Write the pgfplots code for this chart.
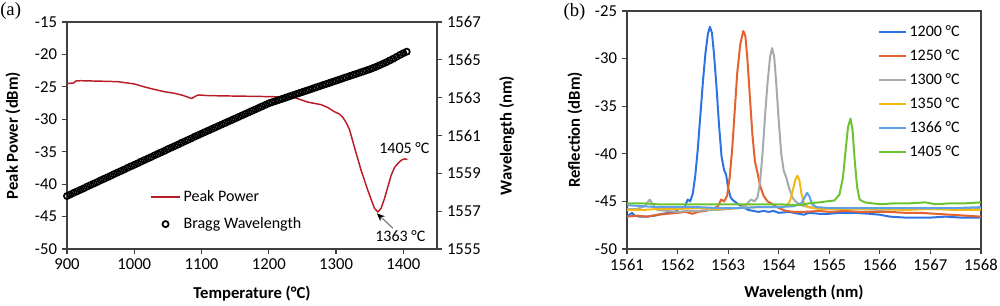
\documentclass[border=0pt]{standalone}
\usepackage{fontspec}
\setmainfont{Carlito}
\newfontfamily\seriffont{Liberation Serif}
\usepackage{pgfplots}
\pgfplotsset{compat=1.18}
\usetikzlibrary{arrows.meta}
\definecolor{pkred}{RGB}{185,28,38}
\definecolor{cA}{RGB}{45,115,228}
\definecolor{cB}{RGB}{228,98,45}
\definecolor{cC}{RGB}{165,170,172}
\definecolor{cD}{RGB}{245,185,20}
\definecolor{cE}{RGB}{95,160,230}
\definecolor{cF}{RGB}{110,195,50}
\pgfplotsset{
  myax/.style={
    scale only axis, anchor=south west,
    axis line style={black!75, line width=0.9pt},
    tick style={black!75, line width=0.9pt},
    major tick length=4pt, tick align=outside,
    /pgf/number format/assume math mode=true,
    /pgf/number format/1000 sep={},
    tick label style={font=\fontsize{12.5}{14}\selectfont},
    label style={font=\bfseries\fontsize{12.5}{14}\selectfont},
  },
  lineleg22/.style={legend image code/.code={\draw[##1] (0pt,0pt) -- (22pt,0pt);}},
  lineleg20/.style={legend image code/.code={\draw[##1] (0pt,0pt) -- (20pt,0pt);}},
  circleg/.style={legend image code/.code={\draw[mark repeat=2,mark phase=2,##1] plot coordinates {(0pt,0pt) (11pt,0pt) (22pt,0pt)};}},
}
\begin{document}
\begin{tikzpicture}[font=\fontsize{12}{14}\selectfont]
\path[use as bounding box] (0,0) rectangle (750pt,228.75pt);
\node[anchor=west, font=\seriffont\fontsize{14}{16}\selectfont, inner sep=0pt] at (0pt,220.3pt) {(a)};
\node[anchor=west, font=\seriffont\fontsize{14}{16}\selectfont, inner sep=0pt] at (422.5pt,220pt) {(b)};

% ---------- left panel, peak power ----------
\begin{axis}[myax, at={(50.25pt,42pt)}, width=277.5pt, height=170.25pt,
  xmin=900, xmax=1450, ymin=-50, ymax=-15,
  xtick={900,1000,...,1400}, ytick={-50,-45,...,-15},
  xtick pos=left, ytick pos=left,
  xlabel={Temperature (°C)}, ylabel={Peak Power (dBm)},
  xlabel style={at={(axis description cs:0.5,-0.198)}, anchor=center},
  ylabel style={at={(axis description cs:-0.146,0.5)}, anchor=center},
]
\addplot[pkred, line width=1.1pt, line join=round] coordinates {
(900,-24.45) (905,-24.45) (910,-24.4) (913,-24.1) (920,-24.05) (940,-24.1) (960,-24.15)
(975,-24.2) (990,-24.4) (1000,-24.55) (1013,-24.95) (1030,-25.4) (1045,-25.75)
(1060,-26.0) (1072,-26.3) (1080,-26.6) (1085,-26.8) (1090,-26.5) (1095,-26.25)
(1110,-26.35) (1138,-26.4) (1170,-26.45) (1200,-26.5) (1220,-26.55) (1237,-26.6)
(1248,-27.0) (1258,-27.35) (1268,-27.55) (1278,-27.75) (1288,-28.2) (1297,-28.8)
(1305,-29.2) (1310,-29.7) (1315,-30.5) (1320,-31.6) (1327,-34.2) (1337,-37.8)
(1347,-40.9) (1353,-42.6) (1357,-43.7) (1362,-44.3) (1367,-43.7) (1372,-42.2)
(1377,-40.4) (1382,-38.6) (1387,-37.4) (1392,-36.8) (1397,-36.3) (1402,-36.1) (1406,-36.2)
};
\draw[black!55, line width=0.8pt, -{Stealth[length=6pt,width=5pt,color=black]}]
  (axis cs:1384.6,-46.8) -- (axis cs:1360.5,-44.5);
\node at (axis cs:1395.5,-48.0) {1363 °C};
\node at (axis cs:1401.5,-34.4) {1405 °C};
\end{axis}

% ---------- left panel, Bragg wavelength ----------
\begin{axis}[myax, at={(50.25pt,42pt)}, width=277.5pt, height=170.25pt,
  xmin=900, xmax=1450, ymin=1555, ymax=1567,
  ytick={1555,1557,...,1567},
  axis x line=none, axis y line*=right,
  ylabel={Wavelength (nm)},
  ylabel style={at={(axis description cs:1.189,0.5)}, anchor=center},
  legend style={at={(axis description cs:0.224,0.265)}, anchor=north west,
    draw=none, fill=none, row sep=8.25pt, inner sep=0pt,
    nodes={inner xsep=2pt, inner ysep=0pt, text height=9pt, text depth=3pt}},
  legend cell align=left,
  lineleg22,
]
\addlegendimage{pkred, line width=1.1pt}
\addlegendentry{Peak Power}
\addplot[only marks, mark=o, mark size=2.3pt,
  mark options={draw=black, fill=white, line width=1.3pt}, circleg]
coordinates {
(900,1557.80) (905,1557.88) (910,1557.97) (915,1558.05) (920,1558.13) (925,1558.21)
(930,1558.30) (935,1558.38) (940,1558.46) (945,1558.54) (950,1558.63) (955,1558.71)
(960,1558.79) (965,1558.87) (970,1558.96) (975,1559.04) (980,1559.12) (985,1559.20)
(990,1559.29) (995,1559.37) (1000,1559.45) (1005,1559.53) (1010,1559.62) (1015,1559.70)
(1020,1559.78) (1025,1559.86) (1030,1559.95) (1035,1560.03) (1040,1560.11) (1045,1560.19)
(1050,1560.28) (1055,1560.36) (1060,1560.44) (1065,1560.52) (1070,1560.61) (1075,1560.69)
(1080,1560.77) (1085,1560.85) (1090,1560.94) (1095,1561.02) (1100,1561.10) (1105,1561.18)
(1110,1561.26) (1115,1561.34) (1120,1561.42) (1125,1561.50) (1130,1561.58) (1135,1561.66)
(1140,1561.74) (1145,1561.82) (1150,1561.90) (1155,1561.98) (1160,1562.06) (1165,1562.14)
(1170,1562.22) (1175,1562.30) (1180,1562.38) (1185,1562.46) (1190,1562.54) (1195,1562.62)
(1200,1562.70) (1205,1562.76) (1210,1562.82) (1215,1562.88) (1220,1562.94) (1225,1563.00)
(1230,1563.06) (1235,1563.12) (1240,1563.18) (1245,1563.24) (1250,1563.30) (1255,1563.36)
(1260,1563.42) (1265,1563.48) (1270,1563.54) (1275,1563.60) (1280,1563.66) (1285,1563.72)
(1290,1563.78) (1295,1563.84) (1300,1563.90) (1305,1563.96) (1310,1564.02) (1315,1564.08)
(1320,1564.14) (1325,1564.20) (1330,1564.26) (1335,1564.32) (1340,1564.38) (1345,1564.44)
(1350,1564.50) (1355,1564.57) (1360,1564.64) (1365,1564.72) (1370,1564.80) (1375,1564.88)
(1380,1564.97) (1385,1565.06) (1390,1565.16) (1395,1565.26) (1400,1565.35) (1405,1565.43)
};
\addlegendentry{Bragg Wavelength}
\end{axis}

% ---------- right panel ----------
\begin{axis}[myax, at={(470.25pt,42pt)}, width=265.5pt, height=178.5pt,
  xmin=1561, xmax=1568, ymin=-50, ymax=-25,
  xtick={1561,1562,...,1568}, ytick={-50,-45,...,-25},
  xtick pos=left, ytick pos=left,
  xlabel={Wavelength (nm)}, ylabel={Reflection (dBm)},
  xlabel style={at={(axis description cs:0.5,-0.185)}, anchor=center},
  ylabel style={at={(axis description cs:-0.147,0.5)}, anchor=center},
  legend style={at={(axis description cs:0.709,0.945)}, anchor=north west,
    draw=none, fill=none, row sep=6pt, inner sep=0pt,
    nodes={inner xsep=2pt, inner ysep=0pt, text height=9pt, text depth=3pt}},
  legend cell align=left,
  lineleg20,
  every axis plot/.append style={line width=1.5pt, line join=round},
]
\addplot[cA] coordinates {
(1561.00,-46.5) (1561.05,-46.4) (1561.10,-46.2) (1561.15,-46.5) (1561.25,-46.6) (1561.40,-46.6)
(1561.55,-46.5) (1561.70,-46.3) (1561.85,-46.2) (1561.95,-46.1) (1562.00,-45.9) (1562.05,-45.6)
(1562.10,-45.8) (1562.15,-45.5) (1562.20,-44.8) (1562.25,-45.0) (1562.30,-44.2) (1562.35,-42.3)
(1562.40,-39.5) (1562.45,-36.0) (1562.50,-32.5) (1562.55,-29.5) (1562.60,-27.4) (1562.64,-26.65)
(1562.68,-27.3) (1562.72,-29.5) (1562.77,-33.0) (1562.82,-37.0) (1562.87,-40.3) (1562.92,-41.7)
(1562.96,-42.2) (1563.00,-43.6) (1563.05,-44.6) (1563.10,-44.9) (1563.20,-45.3) (1563.30,-45.6)
(1563.40,-45.9) (1563.50,-46.0) (1563.60,-46.1) (1563.70,-46.0) (1563.80,-46.1) (1563.90,-46.0)
(1564.00,-46.2) (1564.20,-46.1) (1564.40,-46.3) (1564.50,-46.4) (1564.60,-46.2) (1564.80,-46.3)
(1565.00,-46.3) (1565.20,-46.2) (1565.50,-46.2) (1565.80,-46.3) (1566.00,-46.4) (1566.20,-46.6)
(1566.50,-46.7) (1566.80,-46.7) (1567.00,-46.7) (1567.30,-46.6) (1567.60,-46.7) (1568.00,-46.7)
};
\addlegendentry{1200 °C}
\addplot[cB] coordinates {
(1561.00,-46.6) (1561.20,-46.5) (1561.40,-46.6) (1561.60,-46.4) (1561.80,-46.3) (1562.00,-46.2)
(1562.15,-46.1) (1562.30,-46.3) (1562.40,-46.1) (1562.55,-46.0) (1562.70,-45.8) (1562.80,-45.5)
(1562.86,-44.8) (1562.92,-45.0) (1562.98,-44.4) (1563.03,-42.5) (1563.08,-39.5) (1563.13,-35.5)
(1563.18,-31.5) (1563.24,-28.5) (1563.30,-27.1) (1563.34,-27.6) (1563.38,-30.0) (1563.43,-34.0)
(1563.48,-38.0) (1563.53,-40.8) (1563.58,-42.0) (1563.63,-43.3) (1563.70,-44.4) (1563.78,-45.0)
(1563.88,-45.3) (1564.00,-45.7) (1564.15,-46.0) (1564.30,-46.1) (1564.50,-46.1) (1564.80,-46.0)
(1565.00,-46.1) (1565.30,-46.0) (1565.60,-46.1) (1565.90,-46.1) (1566.20,-46.1) (1566.50,-46.2)
(1566.80,-46.2) (1567.10,-46.3) (1567.40,-46.4) (1567.70,-46.5) (1568.00,-46.6)
};
\addlegendentry{1250 °C}
\addplot[cC] coordinates {
(1561.00,-45.8) (1561.20,-45.8) (1561.35,-45.5) (1561.45,-44.8) (1561.52,-45.4) (1561.60,-45.9)
(1561.80,-46.0) (1562.00,-46.1) (1562.20,-46.0) (1562.40,-46.0) (1562.60,-45.9) (1562.80,-45.9)
(1563.00,-45.8) (1563.20,-45.7) (1563.35,-45.4) (1563.45,-44.8) (1563.52,-45.0) (1563.58,-44.6)
(1563.63,-43.0) (1563.68,-40.0) (1563.73,-36.0) (1563.78,-32.5) (1563.83,-29.8) (1563.87,-28.9)
(1563.91,-29.8) (1563.95,-32.5) (1564.00,-36.5) (1564.05,-40.0) (1564.10,-41.8) (1564.15,-42.5)
(1564.20,-43.5) (1564.27,-44.6) (1564.35,-45.1) (1564.45,-45.4) (1564.60,-45.6) (1564.80,-45.7)
(1565.00,-45.7) (1565.30,-45.8) (1565.60,-45.8) (1566.00,-45.9) (1566.40,-45.8) (1566.80,-45.7)
(1567.20,-45.7) (1567.60,-45.7) (1568.00,-45.7)
};
\addlegendentry{1300 °C}
\addplot[cD] coordinates {
(1561.00,-45.9) (1561.30,-45.9) (1561.60,-45.8) (1562.00,-45.8) (1562.40,-45.7) (1562.80,-45.8)
(1563.20,-45.7) (1563.60,-45.6) (1564.00,-45.6) (1564.15,-45.5) (1564.22,-45.0) (1564.28,-43.8)
(1564.33,-42.7) (1564.37,-42.3) (1564.41,-42.8) (1564.45,-44.2) (1564.50,-45.2) (1564.58,-45.6)
(1564.80,-45.8) (1565.20,-45.8) (1565.60,-45.8) (1566.00,-45.8) (1566.50,-45.9) (1567.00,-45.8)
(1567.50,-45.9) (1568.00,-45.9)
};
\addlegendentry{1350 °C}
\addplot[cE] coordinates {
(1561.00,-45.4) (1561.30,-45.5) (1561.60,-45.6) (1562.00,-45.6) (1562.40,-45.6) (1562.80,-45.7)
(1563.20,-45.7) (1563.60,-45.6) (1564.00,-45.6) (1564.30,-45.5) (1564.45,-45.2) (1564.51,-44.6)
(1564.56,-44.1) (1564.61,-44.5) (1564.66,-45.3) (1564.75,-45.6) (1565.00,-45.7) (1565.50,-45.7)
(1566.00,-45.7) (1566.50,-45.7) (1567.00,-45.7) (1567.50,-45.7) (1568.00,-45.6)
};
\addlegendentry{1366 °C}
\addplot[cF] coordinates {
(1561.00,-45.2) (1561.30,-45.2) (1561.60,-45.3) (1562.00,-45.3) (1562.50,-45.3) (1563.00,-45.3)
(1563.50,-45.3) (1564.00,-45.3) (1564.40,-45.4) (1564.60,-45.2) (1564.80,-45.1) (1564.95,-45.0)
(1565.10,-44.9) (1565.20,-44.3) (1565.27,-42.5) (1565.32,-39.8) (1565.37,-37.2) (1565.42,-36.3)
(1565.46,-37.5) (1565.50,-40.5) (1565.55,-43.5) (1565.60,-44.8) (1565.70,-45.1) (1565.85,-45.2)
(1566.00,-45.3) (1566.30,-45.2) (1566.60,-45.2) (1566.90,-45.1) (1567.10,-45.3) (1567.40,-45.2)
(1567.70,-45.2) (1568.00,-45.1)
};
\addlegendentry{1405 °C}
\end{axis}
\end{tikzpicture}
\end{document}
